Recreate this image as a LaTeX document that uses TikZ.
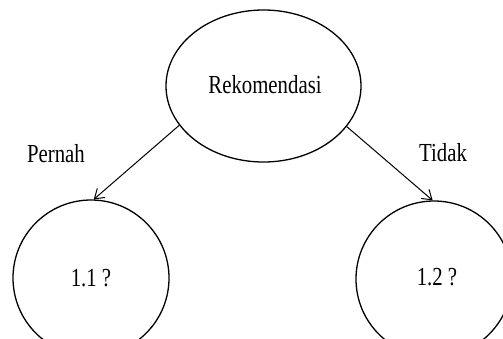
\documentclass[tikz,border=0pt]{standalone}
\usepackage{fontspec}
\setmainfont{Liberation Serif}
\usetikzlibrary{shapes.geometric,arrows.meta}
\begin{document}
\begin{tikzpicture}[x=1pt,y=-1pt,
  oval/.style={draw,ellipse,line width=1.3pt,inner sep=0pt},
  lbl/.style={font=\fontsize{26}{28}\selectfont},
  conn/.style={line width=1pt,-{Straight Barb[length=9pt,width=12pt,line width=1pt]}}]
\useasboundingbox (0,0) rectangle (503,338);
\clip (0,0) rectangle (503,338);
\node[oval,minimum width=195pt,minimum height=152pt] (top) at (263.5,86) {};
\node[lbl] (topt) at (265,85) {\scalebox{0.8}[1]{Rekomendasi}};
\node[oval,minimum width=156pt,minimum height=156pt] (left) at (91,278) {};
\node[lbl] (leftt) at (91,278) {\scalebox{0.8}[1]{1.1 ?}};
\node[oval,minimum width=156pt,minimum height=156pt] (right) at (434,279) {};
\node[lbl] (rightt) at (437,277) {\scalebox{0.8}[1]{1.2 ?}};
\node[lbl] (pernah) at (56,154) {\scalebox{0.8}[1]{Pernah}};
\node[lbl] (tidak) at (443,153) {\scalebox{0.8}[1]{Tidak}};
\draw[conn] (top.205) -- (left.88);
\draw[conn] (top.-26) -- (right.91);
\end{tikzpicture}
\end{document}
